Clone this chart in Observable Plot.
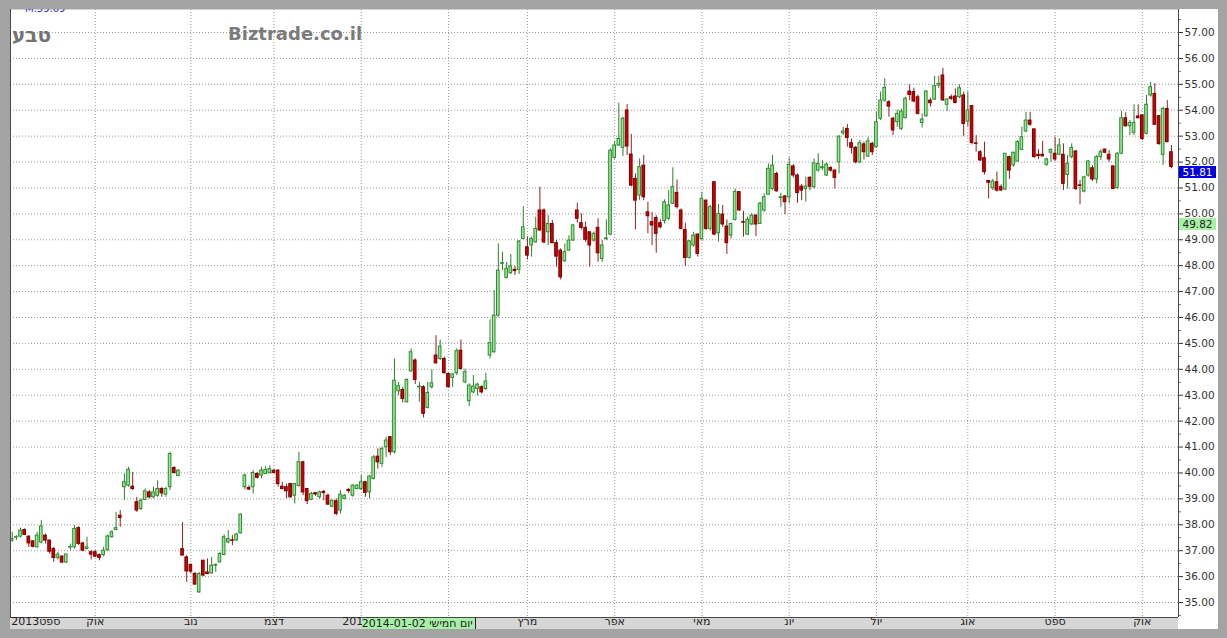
<!DOCTYPE html>
<html><head><meta charset="utf-8">
<script src="https://cdn.jsdelivr.net/npm/d3@7"></script>
<script src="https://cdn.jsdelivr.net/npm/@observablehq/plot@0.6"></script>
<style>
body{margin:0;background:#a4a4a4;}
#wrap{position:relative;width:1227px;height:638px;overflow:hidden;background:#a4a4a4;font-family:"DejaVu Sans",sans-serif;}
#axisbg{position:absolute;left:1178px;top:9px;width:40px;height:620px;background:#fff;}
#xbar{position:absolute;left:10px;top:617px;width:1168px;height:12px;background:#d6d6d6;}
#chart{position:absolute;left:0;top:0;}
#title{position:absolute;left:12px;top:23px;font-size:20px;font-weight:bold;color:#727272;}
#wm{position:absolute;left:228px;top:23px;font-size:18px;font-weight:bold;color:#7b7b7b;}
#maxlbl{position:absolute;left:25px;top:3px;font-size:10px;color:#3333cc;}
#topband{position:absolute;left:0;top:0;width:1227px;height:9px;background:#a4a4a4;}
.plab{position:absolute;height:12px;line-height:12px;font-size:10.5px;text-align:center;}
</style></head><body>
<div id="wrap">
 <div id="axisbg"></div>
 <div id="xbar"></div>
 <div id="chart"></div>
 <div id="title">טבע</div>
 <div id="wm">Biztrade.co.il</div>
 <div id="maxlbl">M.59.69</div>
 <div id="topband"></div>
</div>
<script>
const opens = [37.39,37.50,37.54,37.80,37.54,37.36,37.13,37.32,37.58,37.39,37.06,36.72,36.77,36.54,37.12,37.13,37.87,37.28,37.06,36.94,
36.94,36.83,36.83,37.03,37.52,37.80,38.35,39.45,39.51,39.47,38.87,38.61,38.96,39.25,39.06,39.12,39.38,39.16,39.45,40.19,
39.88,37.06,36.74,36.45,36.10,35.39,36.61,36.16,36.12,36.42,36.55,36.83,37.32,37.40,37.39,37.67,39.45,39.42,39.45,39.96,
39.90,39.96,39.99,40.09,40.09,39.47,39.45,39.57,39.12,39.50,40.41,39.38,38.96,39.22,39.06,39.27,39.12,38.70,38.91,38.55,
39.00,39.34,39.12,39.38,39.38,39.64,39.25,39.77,40.63,40.35,40.99,41.38,40.80,43.15,43.20,42.73,43.92,44.34,43.30,43.31,
42.51,43.31,44.53,44.40,44.40,43.82,43.67,43.85,44.72,43.50,42.77,43.11,43.24,43.31,43.24,44.53,44.66,46.07,48.07,47.53,
47.71,47.84,47.84,49.03,48.71,48.78,48.90,50.13,50.13,49.29,49.61,48.87,48.58,48.17,48.58,48.97,50.13,49.64,49.46,49.29,
48.97,49.46,48.26,49.03,49.20,52.16,52.64,52.55,53.99,52.29,51.35,50.71,51.86,50.06,49.68,49.84,49.64,49.72,49.81,50.39,
50.81,50.13,49.38,48.30,48.78,49.20,49.03,50.51,49.42,51.22,49.25,49.97,49.51,49.16,49.77,50.84,49.68,49.20,49.59,49.93,
49.61,50.13,50.74,50.96,51.54,50.61,50.67,50.64,51.83,51.48,51.05,50.96,51.39,51.03,51.67,51.76,51.48,51.77,51.67,51.99,
53.11,53.28,52.73,52.55,51.99,52.68,52.21,52.70,52.57,53.67,54.37,54.31,53.67,53.54,53.28,53.69,54.72,54.70,54.50,53.51,
53.77,54.37,54.41,54.95,55.34,54.21,54.50,54.53,54.50,54.57,53.56,54.16,52.72,52.38,52.15,51.27,50.99,51.22,51.03,50.94,
52.19,51.87,52.02,52.47,53.18,53.60,53.26,52.28,52.28,51.89,52.36,52.32,52.28,52.28,51.50,52.19,52.41,51.10,50.86,51.48,
51.76,51.33,52.19,52.48,52.28,51.83,50.99,52.32,53.69,53.38,53.13,53.76,53.80,53.09,54.57,54.63,53.77,52.28,54.05,52.38];
const highs = [37.71,37.58,37.87,37.84,37.58,37.39,37.71,38.16,37.64,37.41,37.13,36.94,36.81,36.87,37.26,37.97,37.93,37.32,37.52,37.00,
37.00,36.87,37.13,37.61,37.77,38.48,38.55,39.96,40.22,40.02,39.06,39.00,39.38,39.32,39.45,39.70,39.45,39.45,40.80,40.24,
40.12,38.09,36.81,36.49,36.16,36.16,36.64,36.68,36.74,36.49,36.94,37.61,37.77,37.58,37.67,38.42,39.96,39.51,40.09,40.02,
40.22,40.24,40.28,40.12,40.12,39.64,39.57,39.60,39.60,40.80,40.45,39.40,39.25,39.25,39.30,39.32,39.19,38.96,39.00,39.32,
39.16,39.40,39.55,39.55,39.90,39.68,39.90,40.67,40.93,40.99,41.38,41.40,44.40,43.50,43.31,43.63,44.79,44.40,43.50,43.37,
43.50,43.98,45.30,45.13,44.47,43.85,43.85,44.79,45.13,44.01,43.44,43.76,43.46,43.37,43.85,45.91,47.04,48.84,48.52,48.13,
48.43,47.97,48.97,50.28,49.12,49.10,49.87,51.03,50.19,49.93,49.74,48.97,48.65,48.84,49.16,49.59,50.41,50.00,49.68,49.29,
49.30,49.81,48.97,49.77,52.51,52.80,54.27,53.73,54.22,53.06,51.54,52.12,52.25,50.45,50.06,49.93,49.77,50.54,50.90,51.78,
51.31,50.19,49.64,48.97,49.29,49.23,50.84,50.54,50.32,51.22,50.36,50.32,49.77,49.64,50.96,50.84,50.10,49.87,50.00,49.97,
50.45,50.77,51.93,52.25,51.61,50.80,50.71,52.16,51.90,51.54,51.13,51.41,51.44,52.12,52.32,52.06,51.96,51.83,51.70,53.02,
53.34,53.45,52.89,52.60,52.83,52.77,52.96,52.77,53.92,54.70,55.21,54.37,53.73,54.01,54.05,54.50,54.98,54.85,54.59,53.86,
54.76,54.46,55.31,55.31,55.62,54.46,54.59,54.82,54.98,54.70,54.70,54.18,53.02,52.44,52.77,51.29,51.33,51.61,51.12,52.32,
52.23,52.38,52.83,53.35,53.92,53.92,53.28,52.48,52.79,52.15,52.51,52.96,52.90,52.70,52.25,52.70,52.44,51.29,51.45,52.06,
51.86,52.25,52.48,52.51,52.44,51.86,52.36,53.95,53.90,53.60,54.21,54.21,53.82,54.57,55.08,55.02,53.80,54.12,54.37,52.64];
const lows = [37.32,37.39,37.49,37.58,37.13,37.10,37.10,37.26,37.26,36.87,36.55,36.64,36.51,36.51,37.00,37.06,37.19,36.96,37.03,36.64,
36.74,36.61,36.77,36.96,37.49,37.77,37.90,38.93,39.45,39.32,38.48,38.55,38.93,39.00,39.00,39.06,39.06,39.06,39.32,39.96,
39.86,36.81,35.78,36.12,35.69,35.35,35.99,36.07,36.10,36.16,36.52,36.81,37.26,37.19,37.36,37.64,39.34,39.32,39.19,39.77,
39.77,39.93,39.96,39.96,39.45,39.34,39.00,39.03,38.80,39.45,39.12,38.78,38.93,39.10,39.00,38.93,38.74,38.65,38.35,38.42,
38.96,39.20,39.06,39.35,39.32,39.06,39.00,39.73,40.15,40.22,40.60,40.67,40.73,42.98,42.70,42.69,43.89,43.41,42.73,42.12,
42.47,43.24,44.21,44.34,43.82,43.28,43.31,43.76,43.98,43.44,42.56,43.05,42.98,43.05,43.18,44.40,44.62,46.01,47.81,47.49,
47.66,47.62,47.66,49.00,48.22,48.33,48.87,49.33,48.84,48.78,48.84,47.94,47.45,48.13,48.56,48.94,49.64,49.38,48.90,47.94,
48.90,48.13,48.13,48.97,49.16,52.10,52.60,52.21,52.25,51.05,49.38,50.51,50.51,49.23,48.78,48.48,49.42,49.61,49.74,50.36,
50.19,49.38,47.97,48.26,48.71,48.33,48.97,49.36,49.33,49.16,48.91,49.48,48.43,49.03,49.72,50.10,49.10,49.16,49.55,49.13,
49.59,50.06,50.71,50.90,50.84,50.26,49.97,50.39,51.39,50.41,50.51,50.45,50.90,50.96,51.61,51.67,51.44,51.61,50.96,51.54,
53.02,52.57,52.31,51.93,51.93,52.08,52.19,52.25,52.55,53.60,54.31,53.73,53.02,53.34,53.22,53.67,54.37,54.28,53.82,53.31,
53.73,54.12,54.38,54.83,54.34,53.95,54.37,54.25,54.44,52.99,53.35,52.66,52.38,52.02,51.50,50.58,50.90,50.84,50.86,50.90,
51.33,51.80,51.99,52.44,53.13,53.38,52.15,52.10,52.19,51.84,51.99,52.02,52.25,50.90,50.96,52.12,50.90,50.35,50.81,51.42,
51.25,51.16,52.06,52.32,51.99,50.93,50.96,52.28,53.35,53.02,53.02,53.67,52.83,53.05,54.50,53.41,52.64,51.87,52.74,51.74];
const closes = [37.45,37.52,37.77,37.61,37.28,37.15,37.58,37.93,37.39,36.96,36.72,36.85,36.54,36.85,37.14,37.84,37.26,37.00,37.13,36.85,
36.77,36.72,37.00,37.55,37.71,37.87,38.26,39.64,40.12,39.38,38.55,38.93,39.29,39.06,39.25,39.38,39.21,39.38,40.73,40.00,
40.09,36.81,36.20,36.19,35.69,36.10,36.04,36.10,36.42,36.45,36.87,37.52,37.45,37.38,37.62,38.39,39.90,39.36,40.00,39.81,
40.09,40.12,40.15,40.00,39.57,39.38,39.29,39.06,39.57,40.41,39.25,38.91,39.19,39.17,39.25,39.22,38.78,38.93,38.42,39.16,
39.12,39.30,39.51,39.51,39.64,39.23,39.86,40.60,40.41,40.93,41.25,40.80,43.56,43.35,42.86,43.59,44.66,43.59,43.33,42.28,
43.09,43.46,44.23,44.88,43.85,43.31,43.80,44.70,44.01,43.89,43.37,43.33,43.41,43.11,43.53,45.01,46.07,47.81,48.10,47.88,
47.97,47.79,48.93,49.48,48.39,49.03,49.42,49.36,48.90,49.61,48.87,48.35,47.55,48.52,48.97,49.55,49.81,49.46,49.00,48.78,
49.23,48.48,48.78,49.05,52.44,52.64,52.89,53.67,52.60,51.09,50.51,51.80,50.64,49.91,49.55,49.23,49.48,50.45,50.32,51.03,
50.26,49.42,48.30,48.94,49.16,48.45,50.58,49.42,50.26,49.20,50.00,49.59,48.87,49.61,50.84,50.13,49.66,49.77,49.93,49.59,
50.39,50.64,51.74,51.86,50.87,50.64,50.45,51.89,51.48,50.80,50.90,51.05,51.05,51.95,51.93,51.80,51.90,51.67,51.39,52.98,
53.18,52.93,52.55,51.99,52.73,52.38,52.80,52.38,53.54,54.37,54.86,54.14,53.22,53.86,53.95,54.44,54.59,54.34,53.86,53.64,
54.72,54.27,54.93,55.02,54.38,54.41,54.44,54.28,54.85,53.47,53.99,52.74,52.70,52.06,51.61,51.20,51.25,50.90,50.90,52.32,
51.67,52.36,52.77,52.96,53.60,53.44,52.19,52.23,52.22,52.10,52.47,52.10,52.64,51.16,51.93,52.54,50.96,51.08,51.41,52.02,
51.33,52.19,52.38,52.36,52.10,50.96,52.32,53.69,53.38,53.51,53.51,53.69,52.89,54.21,54.89,53.44,52.70,54.05,52.77,51.81];

const priceTicks = d3.range(35, 58);
const halfTicks = d3.range(34.5, 57.6, 1);
// month gridline positions (trading-day index); February's label is hidden behind the cursor date label
const monthIdx = [0, 20, 43, 63, 84, 105, 124, 145, 166, 187, 208, 230, 251, 272];
const labelIdx = [0, 20, 43, 63, 84, 124, 145, 166, 187, 208, 230, 251, 272];
const monthLabels = ["2013ספט","אוק","נוב","דצמ","2014ינו","מרץ","אפר","מאי","יונ","יול","אוג","ספט","אוק"];
const lastPrice = 51.81;
const cursorPrice = 49.82;
const cursorIdx = 84;
const cursorLabel = "2014-01-02 יום חמישי";

const candles = opens.map((o, i) => ({i, o, h: highs[i], l: lows[i], c: closes[i]}));
const up = candles.filter(d => d.c >= d.o);
const down = candles.filter(d => d.c < d.o);
const months = labelIdx.map((i, k) => ({i, label: monthLabels[k]}));
const xDomain = [-0.41, 280.7];
const yDomain = [34.421, 57.888];
const grid = {stroke: "#9a9a9a", strokeDasharray: "1,2", strokeWidth: 1};

const chart = Plot.plot({
  width: 1227, height: 638,
  marginLeft: 10, marginRight: 49, marginTop: 9, marginBottom: 21,
  style: {background: "transparent", overflow: "visible", fontFamily: "DejaVu Sans, sans-serif"},
  x: {type: "linear", domain: xDomain, axis: null},
  y: {domain: yDomain, axis: null},
  marks: [
    Plot.frame({fill: "#ffffff"}),
    Plot.ruleY(priceTicks, grid),
    Plot.ruleX(monthIdx.slice(1), grid),
    Plot.ruleX(up, {x: "i", y1: "l", y2: "h", stroke: "#2e7f2e"}),
    Plot.ruleX(down, {x: "i", y1: "l", y2: "h", stroke: "#8a2222"}),
    Plot.rect(up, {x1: d => d.i - 0.32, x2: d => d.i + 0.32, y1: "o", y2: "c", fill: "#97e897", stroke: "#2f8a2f", strokeWidth: 1}),
    Plot.rect(down, {x1: d => d.i - 0.32, x2: d => d.i + 0.32, y1: "o", y2: "c", fill: "#d20000", stroke: "#7a0000", strokeWidth: 1}),
    Plot.ruleX([xDomain[0], xDomain[1]], {stroke: "#4a4a4a"}),
    Plot.ruleY([yDomain[0]], {stroke: "#4a4a4a"}),
    Plot.axisY(priceTicks, {anchor: "right", tickFormat: d => d.toFixed(2), tickSize: 4, tickPadding: 2, fontSize: 10.5, color: "#333", label: null}),
    Plot.axisY(halfTicks, {anchor: "right", tickFormat: () => "", tickSize: 2, color: "#777", label: null}),
    Plot.text(months.slice(1), {x: "i", text: "label", frameAnchor: "bottom", dy: 7, fontSize: 11, fill: "#222"}),
    Plot.text(months.slice(0, 1), {x: "i", text: "label", frameAnchor: "bottom", dy: 7, dx: -1, textAnchor: "start", fontSize: 11, fill: "#222"})
  ]
});
document.getElementById("chart").appendChild(chart);

const ys = chart.scale("y"), xs = chart.scale("x");
const wrap = document.getElementById("wrap");
function addLabel(txt, left, top, width, css) {
  const d = document.createElement("div");
  d.className = "plab";
  d.textContent = txt;
  d.style.left = left + "px"; d.style.top = top + "px"; d.style.width = width + "px";
  Object.assign(d.style, css);
  wrap.insertBefore(d, document.getElementById("topband"));
}
const axisX = xs.apply(xDomain[1]);
addLabel(lastPrice.toFixed(2), axisX + 1, ys.apply(lastPrice), 37, {background: "#0000e0", color: "#fff"});
addLabel(cursorPrice.toFixed(2), axisX + 1, ys.apply(cursorPrice), 37, {background: "#a8f0a8", color: "#222"});
addLabel(cursorLabel, xs.apply(cursorIdx) + 1, ys.apply(yDomain[0]) + 1, 113, {background: "#a8f0a8", color: "#222", borderRight: "1px solid #222", fontSize: "11px", height: "11px", lineHeight: "11px", whiteSpace: "nowrap", textAlign: "left", overflow: "hidden"});
</script>
</body></html>
